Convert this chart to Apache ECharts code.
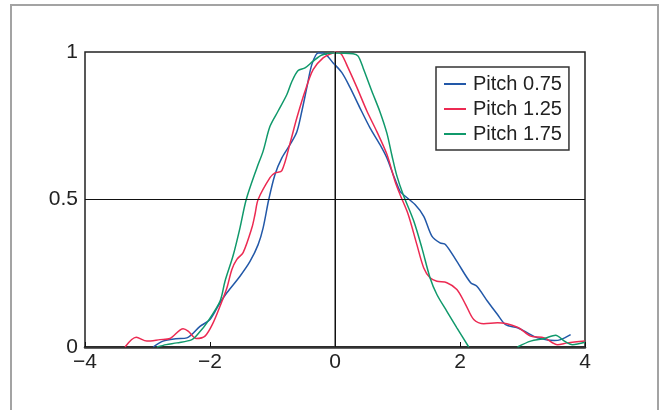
<!DOCTYPE html>
<html>
<head>
<meta charset="utf-8">
<script src="https://cdn.jsdelivr.net/npm/echarts@6/dist/echarts.min.js"></script>
<style>
  html, body { margin: 0; padding: 0; background: #fff; }
  #wrap { position: relative; width: 659px; height: 410px; overflow: hidden; }
  #chart { width: 659px; height: 410px; }
  #frame { position: absolute; left: 10px; top: 4px; width: 645px; height: 430px;
           border: 2px solid #a3a3a3; pointer-events: none; }
</style>
</head>
<body>
<div id="wrap">
  <div id="chart"></div>
  <div id="frame"></div>
</div>
<script>
// x ticks / y ticks
var xTicks = [-4, -2, 0, 2, 4];
var yTicks = [0, 0.5, 1];
var legendNames = ['Pitch 0.75', 'Pitch 1.25', 'Pitch 1.75'];

// Pitch 0.75 (blue)
var pitch075 = [
  [-2.91, 0], [-2.75, 0.02], [-2.55, 0.028], [-2.37, 0.031], [-2.16, 0.07], [-2.0, 0.093],
  [-1.84, 0.15], [-1.73, 0.184], [-1.52, 0.24], [-1.36, 0.29], [-1.23, 0.347], [-1.15, 0.404],
  [-1.06, 0.5], [-0.96, 0.585], [-0.85, 0.641], [-0.72, 0.686], [-0.61, 0.73], [-0.53, 0.8],
  [-0.45, 0.88], [-0.37, 0.958], [-0.27, 0.997], [-0.19, 0.997], [-0.03, 0.963], [0.11, 0.93],
  [0.24, 0.88], [0.4, 0.81], [0.56, 0.743], [0.72, 0.686], [0.83, 0.641], [0.93, 0.585],
  [1.04, 0.528], [1.09, 0.517], [1.28, 0.483], [1.42, 0.443], [1.55, 0.376], [1.68, 0.353],
  [1.77, 0.347], [1.95, 0.29], [2.17, 0.218], [2.27, 0.206], [2.44, 0.155], [2.6, 0.11],
  [2.73, 0.076], [2.92, 0.065], [3.08, 0.048], [3.24, 0.031], [3.51, 0.022], [3.61, 0.025],
  [3.77, 0.042]
];

// Pitch 1.25 (red)
var pitch125 = [
  [-3.36, 0], [-3.18, 0.033], [-3.01, 0.02], [-2.8, 0.025], [-2.64, 0.029], [-2.43, 0.062],
  [-2.35, 0.054], [-2.22, 0.029], [-2.08, 0.037], [-1.95, 0.082], [-1.84, 0.138], [-1.73, 0.2],
  [-1.65, 0.263], [-1.57, 0.297], [-1.47, 0.32], [-1.33, 0.404], [-1.28, 0.45], [-1.23, 0.5],
  [-1.04, 0.574], [-0.96, 0.59], [-0.85, 0.598], [-0.72, 0.69], [-0.61, 0.777], [-0.48, 0.867],
  [-0.35, 0.94], [-0.19, 0.98], [-0.03, 0.997], [0.05, 1.0], [0.11, 0.99], [0.21, 0.946],
  [0.35, 0.88], [0.51, 0.8], [0.67, 0.73], [0.83, 0.653], [0.96, 0.562], [1.04, 0.517],
  [1.17, 0.45], [1.31, 0.347], [1.42, 0.268], [1.52, 0.235], [1.63, 0.223], [1.79, 0.218],
  [1.95, 0.195], [2.09, 0.144], [2.22, 0.093], [2.38, 0.079], [2.6, 0.082], [2.92, 0.067],
  [3.13, 0.037], [3.35, 0.031], [3.56, 0.008], [3.72, 0.014], [4.0, 0.02]
];

// Pitch 1.75 (green) - drops out of the plot between ~2.1 and ~2.9
var pitch175 = [
  [-2.85, 0], [-2.7, 0.008], [-2.53, 0.014], [-2.29, 0.025], [-2.17, 0.05], [-2.05, 0.082],
  [-1.84, 0.155], [-1.76, 0.223], [-1.63, 0.31], [-1.52, 0.404], [-1.42, 0.5], [-1.25, 0.607],
  [-1.15, 0.664], [-1.04, 0.748], [-0.91, 0.8], [-0.77, 0.856], [-0.69, 0.9], [-0.59, 0.937],
  [-0.48, 0.946], [-0.35, 0.969], [-0.21, 0.99], [-0.03, 0.997], [0.29, 0.994], [0.37, 0.986],
  [0.45, 0.946], [0.59, 0.867], [0.72, 0.797], [0.83, 0.725], [0.91, 0.65], [0.99, 0.58],
  [1.09, 0.517], [1.26, 0.427], [1.39, 0.336], [1.52, 0.235], [1.63, 0.178], [1.79, 0.121],
  [1.95, 0.065], [2.14, 0], [2.5, '-'], [2.92, 0], [3.13, 0.02], [3.35, 0.029], [3.53, 0.04],
  [3.67, 0.02], [3.8, 0.008], [4.0, 0.016]
];

var colors = ['#2258a8', '#ec2a52', '#10996b'];
var font = '"Liberation Sans", Arial, sans-serif';

var myChart = echarts.init(document.getElementById('chart'));
var option = {
    animation: false,
    color: colors,
    grid: {
        left: 85, top: 52, width: 500, height: 295,
        show: true,
        borderColor: '#222',
        borderWidth: 1.5
    },
    legend: {
        data: legendNames,
        orient: 'vertical',
        left: 436, top: 67,
        icon: 'rect',
        itemWidth: 22, itemHeight: 2, itemGap: 5,
        padding: [7, 7, 6, 8],
        borderColor: '#333', borderWidth: 1.5,
        backgroundColor: '#fff',
        textStyle: { fontFamily: font, fontSize: 20, color: '#222', padding: [0, 0, 0, 2] }
    },
    xAxis: [{
        type: 'value',
        min: -4, max: 4, interval: 2,
        axisLine: { show: true, onZero: false, lineStyle: { color: '#111', width: 2 } },
        axisTick: { show: true, inside: true, length: 5, lineStyle: { color: '#111', width: 1 } },
        axisLabel: {
            fontFamily: font, fontSize: 21, color: '#222', margin: 5,
            formatter: function (v) { return String(v).replace('-', '\u2212'); }
        },
        splitLine: { show: false }
    }, {
        type: 'value',
        position: 'top',
        min: -4, max: 4,
        axisLine: { show: true, lineStyle: { color: '#333', width: 2.5 } },
        axisTick: { show: false },
        axisLabel: { show: false },
        splitLine: { show: false }
    }],
    yAxis: {
        type: 'value',
        min: 0, max: 1, interval: 0.5,
        axisLine: { show: true, lineStyle: { color: '#888', width: 2 } },
        axisTick: { show: false },
        axisLabel: { fontFamily: font, fontSize: 21, color: '#222', margin: 7 },
        splitLine: { show: false }
    },
    series: [{
        name: legendNames[0],
        type: 'line',
        data: pitch075,
        showSymbol: false, symbol: 'none',
        smooth: 0.3,
        lineStyle: { width: 1.5 },
        markLine: {
            silent: true,
            symbol: 'none',
            label: { show: false },
            lineStyle: { color: '#111', width: 1, type: 'solid' },
            data: [{ xAxis: 0 }, { yAxis: 0.5 }]
        }
    }, {
        name: legendNames[1],
        type: 'line',
        data: pitch125,
        showSymbol: false, symbol: 'none',
        smooth: 0.3,
        lineStyle: { width: 1.5 }
    }, {
        name: legendNames[2],
        type: 'line',
        data: pitch175,
        showSymbol: false, symbol: 'none',
        smooth: 0.3,
        connectNulls: false,
        lineStyle: { width: 1.5 }
    }]
};
myChart.setOption(option);
</script>
</body>
</html>
